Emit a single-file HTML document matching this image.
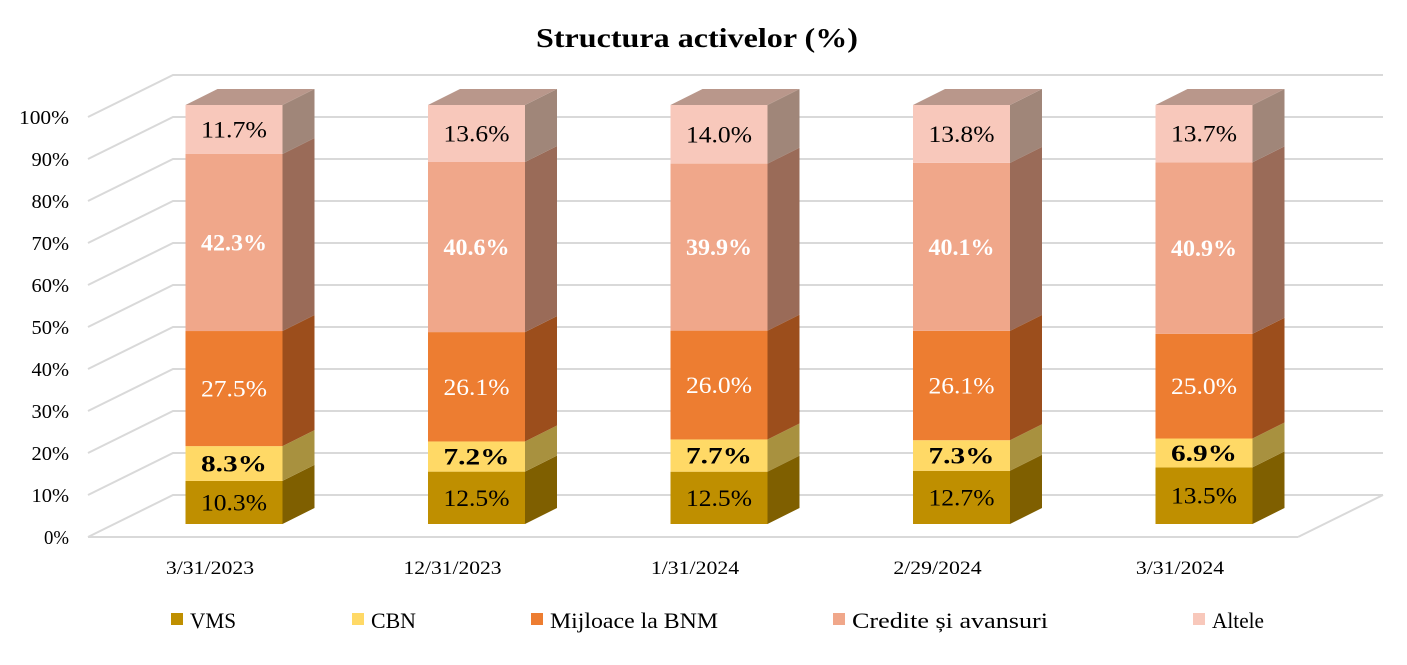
<!DOCTYPE html>
<html><head><meta charset="utf-8"><style>
body{margin:0;background:#fff;}
svg{display:block;font-family:"Liberation Serif",serif;}
</style></head><body>
<svg id="s" width="1407" height="665" xmlns="http://www.w3.org/2000/svg">
<text x="697" y="47" text-anchor="middle" font-size="27" font-weight="bold" textLength="322" lengthAdjust="spacingAndGlyphs">Structura activelor (%)</text>
</svg>
<script>
const s=document.getElementById('s');const NS='http://www.w3.org/2000/svg';
function el(t,a,txt){const e=document.createElementNS(NS,t);for(const k in a)e.setAttribute(k,a[k]);if(txt!=null)e.textContent=txt;s.appendChild(e);return e;}
for(let i=0;i<=10;i++){const yf=537-42*i,yb=495-42*i;
 el('polyline',{points:`88,${yf} 173,${yb} 1383,${yb}`,fill:'none',stroke:'#d9d9d9','stroke-width':2});
 const t=(i*10)+'%';
 el('text',{x:69,y:yf+7,'text-anchor':'end','font-size':20,textLength:t.length*12.5,lengthAdjust:'spacingAndGlyphs'},t);}
el('line',{x1:88,y1:537,x2:1298,y2:537,stroke:'#d9d9d9','stroke-width':2});
el('line',{x1:1298,y1:537,x2:1383,y2:495,stroke:'#d9d9d9','stroke-width':2});
const data=[[10.3,8.3,27.5,42.3,11.7],[12.5,7.2,26.1,40.6,13.6],[12.5,7.7,26.0,39.9,14.0],[12.7,7.3,26.1,40.1,13.8],[13.5,6.9,25.0,40.9,13.7]];
const dates=['3/31/2023','12/31/2023','1/31/2024','2/29/2024','3/31/2024'];
const fc=['#bf8f00','#ffd966','#ed7d31','#f0a78a','#f8c8bb'];
const sc=['#7f5f00','#a8913f','#9c4e1c','#9a6b58','#a08679'];
const tc=['#000','#000','#fff','#fff','#000'];const bw=[0,1,0,1,0];
const W=97,DX=32,DY=16;
data.forEach((d,b)=>{const cx=234+b*242.5,x0=cx-W/2;const sum=d.reduce((a,c)=>a+c,0);let y=524;
 d.forEach((v,k)=>{const h=v/sum*419;const y1=y-h;
  el('rect',{x:x0,y:y1,width:W,height:h,fill:fc[k]});
  el('polygon',{points:`${x0+W},${y} ${x0+W+DX},${y-DY} ${x0+W+DX},${y1-DY} ${x0+W},${y1}`,fill:sc[k]});
  el('text',{x:cx,y:(y+y1)/2+8,'text-anchor':'middle','font-size':23,fill:tc[k],'font-weight':bw[k]?'bold':'normal',textLength:66,lengthAdjust:'spacingAndGlyphs'},v.toFixed(1)+'%');
  y=y1;});
 el('polygon',{points:`${x0},${y} ${x0+DX},${y-DY} ${x0+W+DX},${y-DY} ${x0+W},${y}`,fill:'#b9978b'});
 const dt=dates[b];
 el('text',{x:cx-24,y:574,'text-anchor':'middle','font-size':19,textLength:dt.length*9.8,lengthAdjust:'spacingAndGlyphs'},dt);
});
const lg=[['VMS',190,46],['CBN',371,45],['Mijloace la BNM',550,168],['Credite și avansuri',852,196],['Altele',1212,52]];
lg.forEach((l,i)=>{el('rect',{x:l[1]-19,y:613,width:12,height:12,fill:fc[i]});el('text',{x:l[1],y:628,'font-size':22,textLength:l[2],lengthAdjust:'spacingAndGlyphs'},l[0]);});
</script>
</body></html>
